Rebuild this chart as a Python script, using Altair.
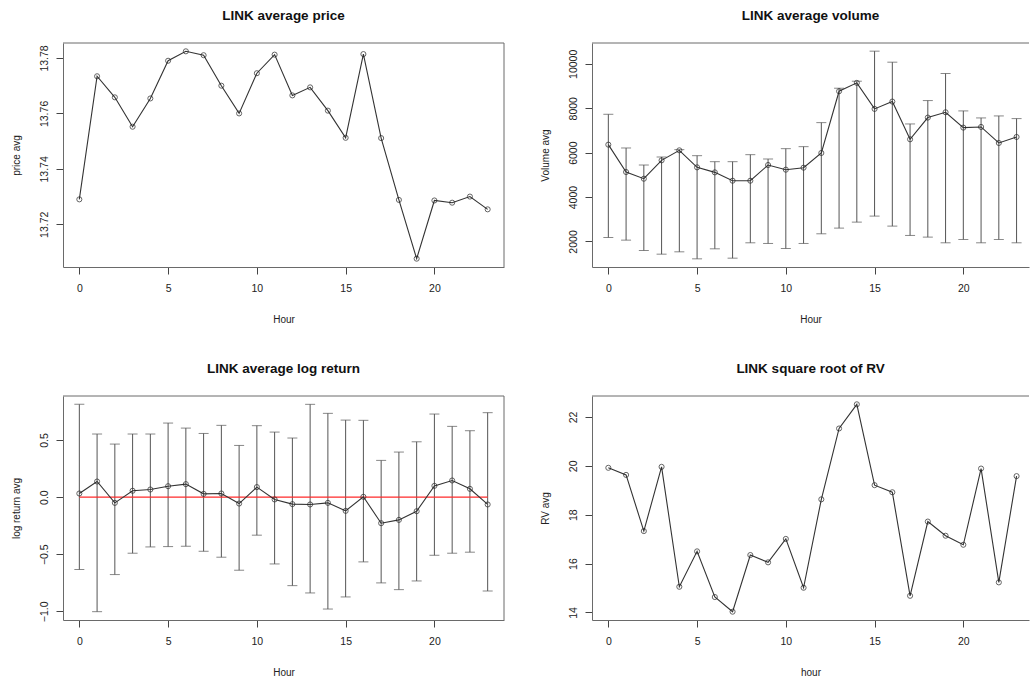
import altair as alt
import pandas as pd

hours = list(range(24))
x_ticks = [0, 5, 10, 15, 20]

price_avg = [13.7290, 13.7734, 13.7658, 13.7552, 13.7654, 13.7790, 13.7824, 13.7810,
             13.7700, 13.7600, 13.7745, 13.7812, 13.7665, 13.7694, 13.7610, 13.7512,
             13.7814, 13.7511, 13.7288, 13.7076, 13.7286, 13.7278, 13.7300, 13.7254]

volume_avg = [6361, 5128, 4827, 5654, 6106, 5339, 5113, 4737, 4737, 5444, 5234, 5324,
              5986, 8767, 9144, 7971, 8302, 6602, 7580, 7820, 7129, 7159, 6437, 6707]
volume_upper = [7729, 6211, 5444, 5805, 6136, 5865, 5594, 5594, 5910, 5715, 6181, 6271,
                7354, 8903, 9219, 10573, 10076, 7294, 8347, 9565, 7881, 7565, 7655, 7535]
volume_lower = [2180, 2060, 1594, 1428, 1534, 1218, 1669, 1248, 1940, 1910, 1684, 1910,
                2346, 2602, 2872, 3143, 2692, 2271, 2196, 1940, 2090, 1940, 2090, 1940]

logret_avg = [0.032, 0.137, -0.050, 0.056, 0.067, 0.096, 0.114, 0.029, 0.032, -0.056,
              0.088, -0.020, -0.061, -0.064, -0.050, -0.120, 0.003, -0.228, -0.199,
              -0.123, 0.099, 0.146, 0.073, -0.064]
logret_upper = [0.813, 0.553, 0.465, 0.553, 0.553, 0.649, 0.605, 0.558, 0.629, 0.453,
                0.626, 0.570, 0.518, 0.813, 0.734, 0.675, 0.673, 0.322, 0.395, 0.485,
                0.728, 0.620, 0.582, 0.740]
logret_lower = [-0.634, -1.003, -0.678, -0.491, -0.436, -0.433, -0.430, -0.474, -0.526,
                -0.640, -0.333, -0.585, -0.775, -0.839, -0.980, -0.874, -0.567, -0.751,
                -0.810, -0.734, -0.509, -0.491, -0.482, -0.822]

rv_avg = [19.92, 19.63, 17.33, 19.96, 15.05, 16.50, 14.63, 14.03, 16.35, 16.05, 17.01,
          15.01, 18.63, 21.53, 22.52, 19.21, 18.92, 14.68, 17.72, 17.14, 16.77, 19.89,
          15.23, 19.58]

FONT = "Liberation Sans"
INK = "#333333"
FRAME = "#6a6a6a"
PH = 224          # plot height
WL = 441          # left plot width
WR = 437          # right plot width (cut by window edge)


def make_panel(values, title, xtitle, ytitle, ydomain, yticks, yfmt, width, xdomain,
               upper=None, lower=None, zero_line=False, right_border=True):
    df = pd.DataFrame({"hour": hours, "val": values})
    if upper is not None:
        df["upper"] = upper
        df["lower"] = lower

    xaxis = alt.Axis(values=x_ticks, title=xtitle, titleY=52, titleBaseline="middle",
                     labelPadding=9, tickSize=7, labelFlush=False)
    yaxis = alt.Axis(values=yticks, format=yfmt, title=ytitle, labelAngle=270,
                     labelAlign="center", labelBaseline="alphabetic", labelPadding=9,
                     tickSize=7, titleAngle=270, titleX=-47, titleY=PH / 2,
                     titleAlign="center", titleBaseline="middle", labelFlush=False)
    xs = alt.Scale(domain=xdomain, nice=False, zero=False)
    ys = alt.Scale(domain=ydomain, nice=False, zero=False)

    def X(field):
        return alt.X(f"{field}:Q", scale=xs, axis=xaxis)

    def Y(field):
        return alt.Y(f"{field}:Q", scale=ys, axis=yaxis)

    base = alt.Chart(df)
    layers = []
    if upper is not None:
        layers.append(base.mark_rule(color="#555555", strokeWidth=1).encode(
            x=X("hour"), y=Y("lower"), y2="upper:Q"))
        layers.append(base.mark_tick(color="#555555", orient="horizontal", size=10,
                                     thickness=1).encode(x=X("hour"), y=Y("upper")))
        layers.append(base.mark_tick(color="#555555", orient="horizontal", size=10,
                                     thickness=1).encode(x=X("hour"), y=Y("lower")))
    if zero_line:
        zdf = pd.DataFrame({"hour": [0], "hour_end": [23], "val": [0.0]})
        layers.append(alt.Chart(zdf).mark_rule(color="#ff2a2a", strokeWidth=1.3).encode(
            x=X("hour"), x2="hour_end:Q", y=Y("val")))
    layers.append(base.mark_line(color=INK, strokeWidth=1.1).encode(x=X("hour"), y=Y("val")))
    layers.append(base.mark_point(shape="circle", filled=False, size=26, color="#222222",
                                  strokeWidth=1).encode(x=X("hour"), y=Y("val")))

    one = pd.DataFrame({"a": [0]})
    layers.append(alt.Chart(one).mark_rule(color=FRAME, strokeWidth=1).encode(
        x=alt.value(0), x2=alt.value(width), y=alt.value(0)))
    if right_border:
        layers.append(alt.Chart(one).mark_rule(color=FRAME, strokeWidth=1).encode(
            x=alt.value(width), y=alt.value(0), y2=alt.value(PH)))

    return alt.layer(*layers).properties(
        width=width, height=PH,
        title=alt.TitleParams(title, baseline="middle", offset=13.5, anchor="middle"))


p1 = make_panel(price_avg, "LINK average price", "Hour", "price avg",
                [13.7046, 13.7854], [13.72, 13.74, 13.76, 13.78], ".2f", WL, [-0.92, 23.92])
p2 = make_panel(volume_avg, "LINK average volume", "Hour", "Volume avg",
                [850, 10940], [2000, 4000, 6000, 8000, 10000], "d", WR, [-0.92, 23.70],
                upper=volume_upper, lower=volume_lower, right_border=False)
p3 = make_panel(logret_avg, "LINK average log return", "Hour", "log return avg",
                [-1.076, 0.886], [-1.0, -0.5, 0.0, 0.5], ".1f", WL, [-0.92, 23.92],
                upper=logret_upper, lower=logret_lower, zero_line=True)
p4 = make_panel(rv_avg, "LINK square root of RV", "hour", "RV avg",
                [13.69, 22.86], [14, 16, 18, 20, 22], "d", WR, [-0.92, 23.70],
                right_border=False)

chart = alt.concat(p1, p2, p3, p4, columns=2, bounds="flush",
                   spacing=alt.RowColnumber(row=129, column=88)).properties(
    padding={"left": 11, "top": 8, "right": 0, "bottom": 4},
    background="white",
).configure_view(stroke=None).configure_axis(
    grid=False, domain=True, domainColor=FRAME, domainWidth=1,
    tickColor="#444444", tickWidth=1,
    labelFont=FONT, labelFontSize=10.5, labelColor="#222222",
    titleFont=FONT, titleFontSize=10, titleFontWeight="normal", titleColor="#222222",
).configure_title(
    font=FONT, fontSize=13.5, fontWeight="bold", color="#111111",
)

chart.save("out.html", embed_options={"renderer": "svg", "actions": False})
